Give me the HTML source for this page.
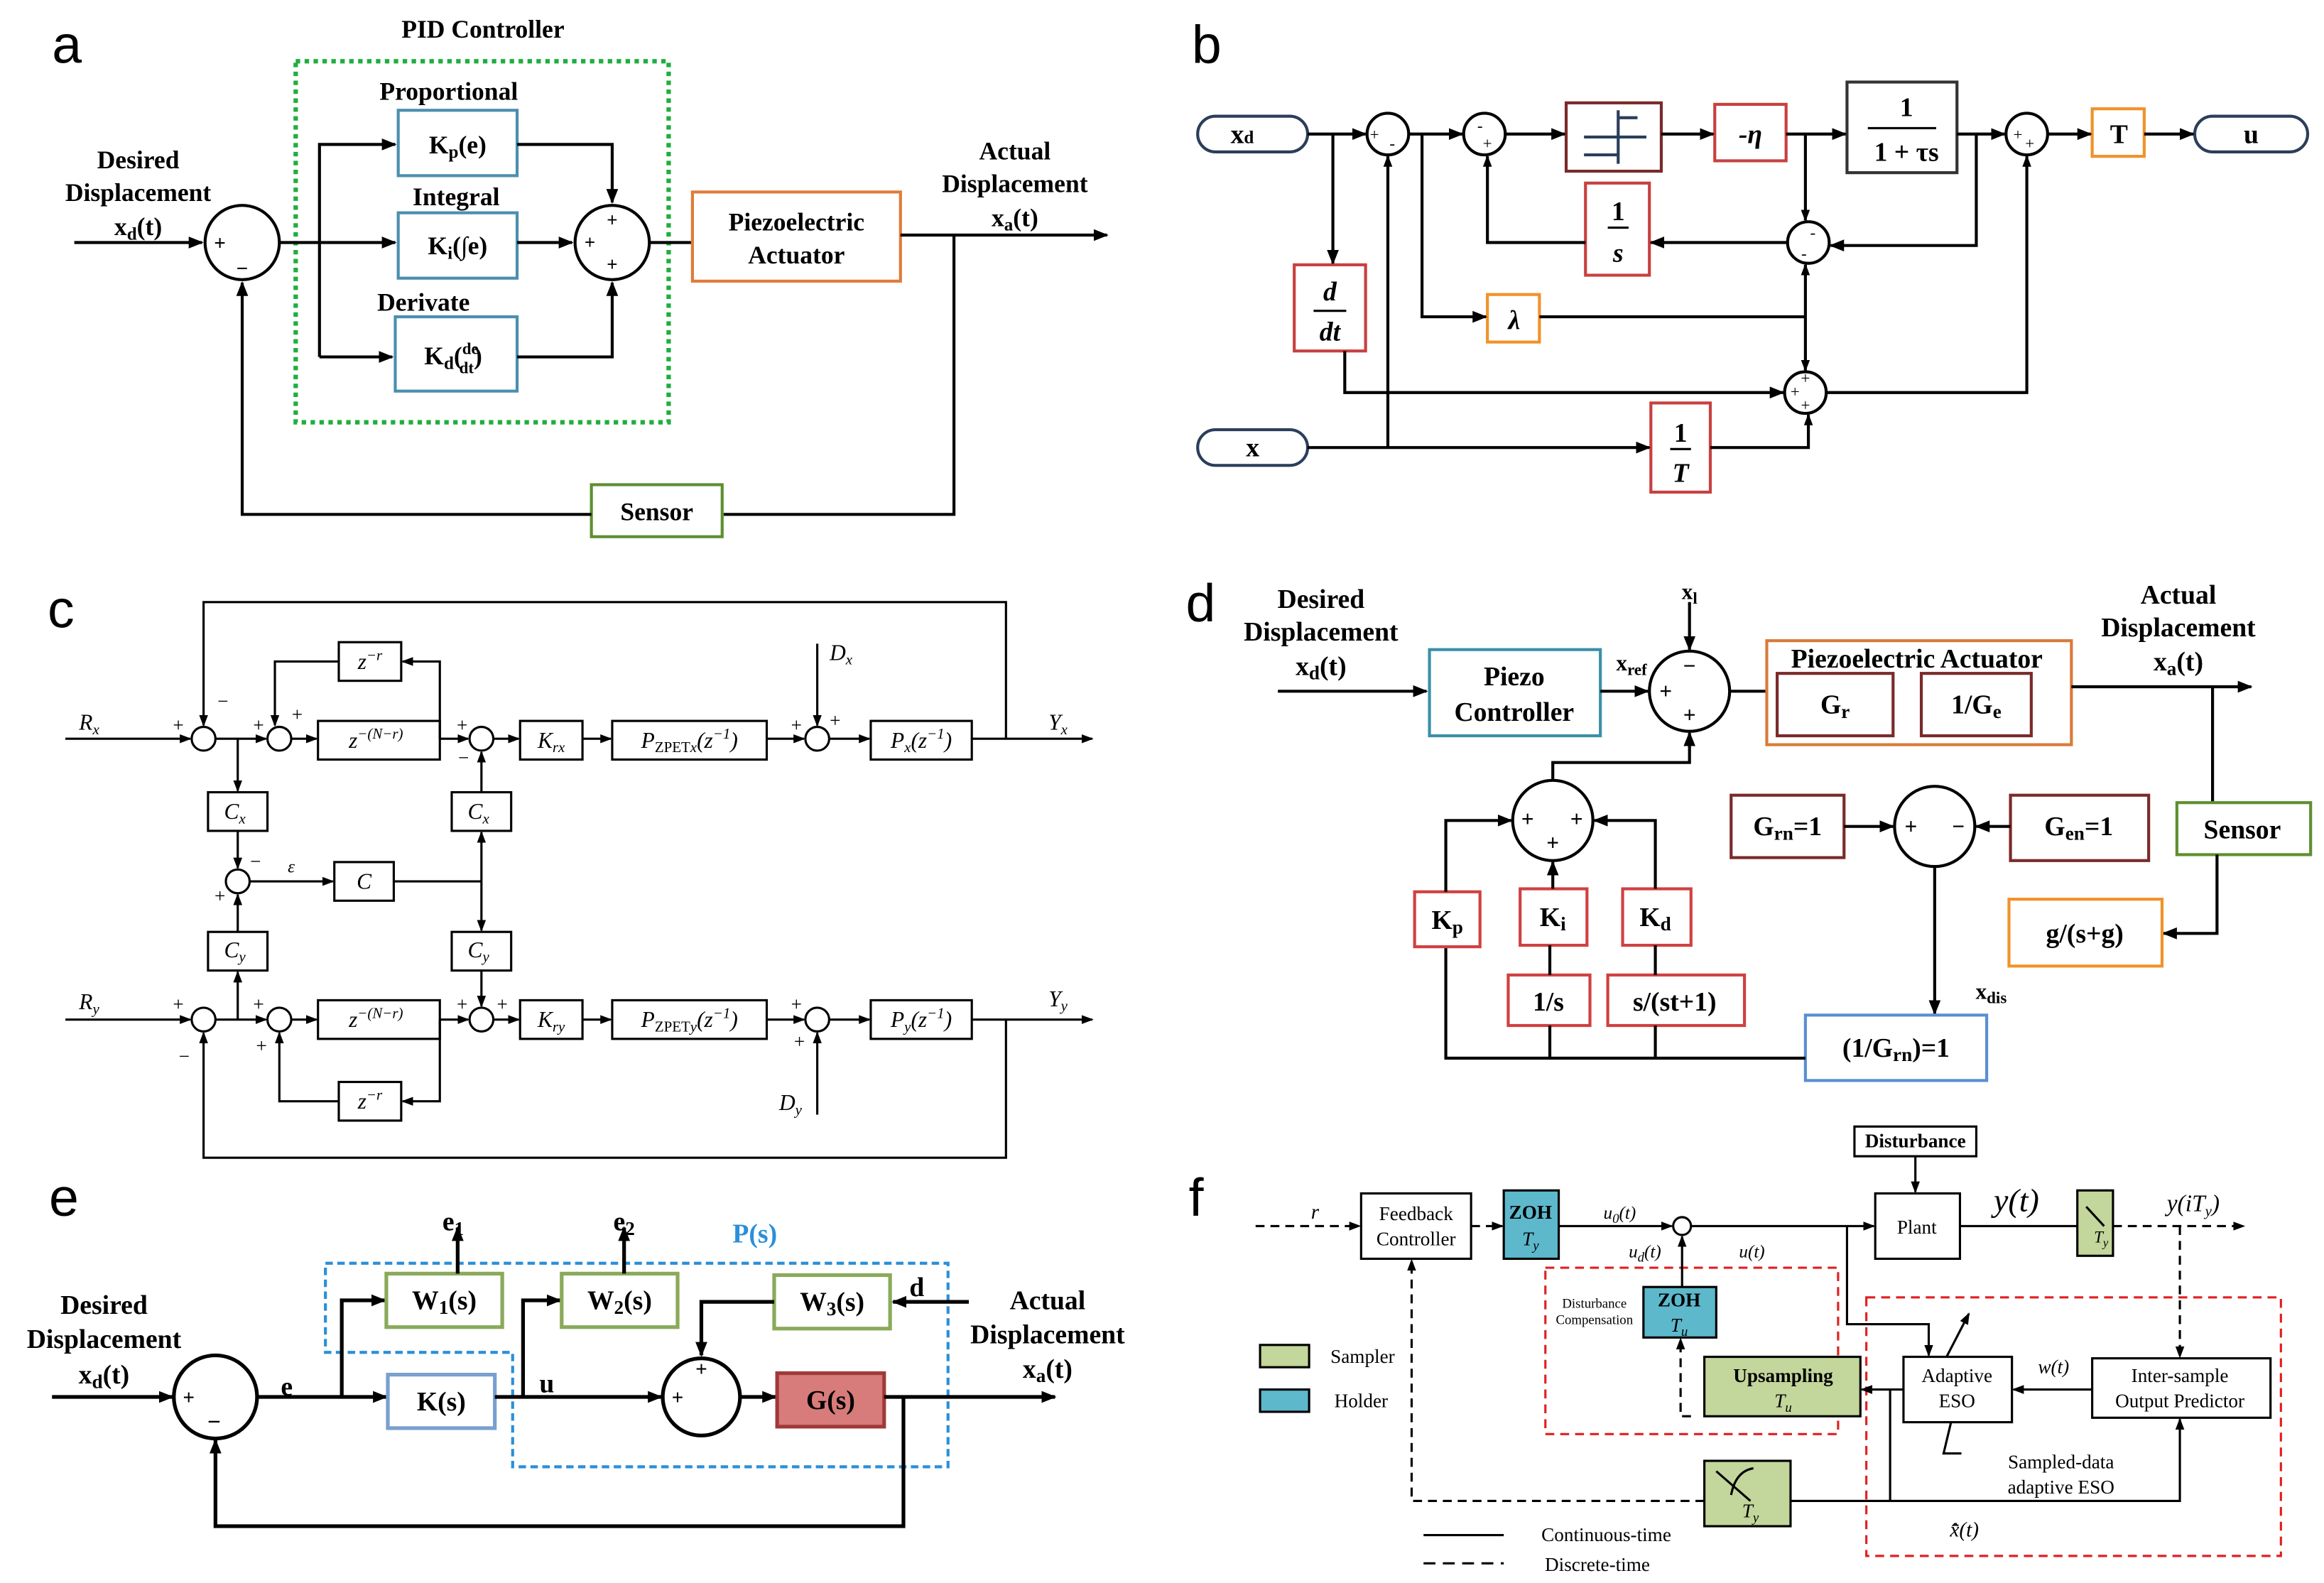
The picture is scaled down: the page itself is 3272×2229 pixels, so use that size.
<!DOCTYPE html>
<html><head><meta charset="utf-8"><style>
html,body{margin:0;padding:0;background:#fff;}
svg{display:block;}
text{font-family:"Liberation Serif",serif;}
.b{font-weight:bold;}
.s{font-family:"Liberation Sans",sans-serif;}
.i{font-style:italic;}
</style></head><body>
<svg width="3272" height="2229" viewBox="0 0 1564 1065" xmlns="http://www.w3.org/2000/svg">
<defs>
<marker id="ar" markerWidth="10" markerHeight="10" refX="9" refY="5" orient="auto" markerUnits="userSpaceOnUse"><path d="M0,1 L10,5 L0,9 Z" fill="#000"/></marker>
<marker id="as" markerWidth="8" markerHeight="8" refX="7" refY="4" orient="auto" markerUnits="userSpaceOnUse"><path d="M0,1 L8,4 L0,7 Z" fill="#000"/></marker>
</defs>
<rect width="1564" height="1065" fill="#fff"/>

<!-- ===== Panel a ===== -->
<g stroke="#000" stroke-width="2" fill="none">
<text x="35" y="42" class="s" font-size="36" fill="#000" stroke="none">a</text>
<rect x="199" y="41" width="251" height="243" stroke="#1fae3f" stroke-width="3" stroke-dasharray="3,3"/>
<line x1="50" y1="163" x2="136" y2="163" marker-end="url(#ar)"/>
<circle cx="163" cy="163" r="25"/>
<line x1="188" y1="163" x2="266" y2="163" marker-end="url(#ar)"/>
<polyline points="215,240 215,97 266,97" marker-end="url(#ar)"/>
<line x1="215" y1="240" x2="264" y2="240" marker-end="url(#ar)"/>
<rect x="268" y="74" width="80" height="44" stroke="#4a8fb0"/>
<rect x="268" y="143" width="80" height="44" stroke="#4a8fb0"/>
<rect x="266" y="213" width="82" height="50" stroke="#4a8fb0"/>
<circle cx="412" cy="163" r="25"/>
<polyline points="348,97 412,97 412,136" marker-end="url(#ar)"/>
<line x1="348" y1="163" x2="385" y2="163" marker-end="url(#ar)"/>
<polyline points="348,240 412,240 412,190" marker-end="url(#ar)"/>
<line x1="437" y1="163" x2="466" y2="163"/>
<rect x="466" y="129" width="140" height="60" stroke="#e07b39"/>
<line x1="606" y1="158" x2="745" y2="158" marker-end="url(#ar)"/>
<polyline points="642,158 642,346 487,346"/>
<rect x="398" y="326" width="88" height="35" stroke="#5f8f30"/>
<polyline points="398,346 163,346 163,190" marker-end="url(#ar)"/>
</g>
<g fill="#000" class="b" font-size="17" text-anchor="middle">
<text x="325" y="25">PID Controller</text>
<text x="93" y="113">Desired</text><text x="93" y="135">Displacement</text>
<text x="93" y="158">x<tspan font-size="12" dy="3">d</tspan><tspan dy="-3">(t)</tspan></text>
<text x="302" y="67">Proportional</text><text x="307" y="138">Integral</text><text x="285" y="209">Derivate</text>
<text x="308" y="103">K<tspan font-size="12" dy="3">p</tspan><tspan dy="-3">(e)</tspan></text>
<text x="308" y="171">K<tspan font-size="12" dy="3">i</tspan><tspan dy="-3">(∫e)</tspan></text>
<text x="305" y="245">K<tspan font-size="12" dy="3">d</tspan><tspan dy="-3">(</tspan><tspan font-size="11" dy="-7">de</tspan><tspan font-size="11" dx="-13" dy="13">dt</tspan><tspan dy="-6">)</tspan></text>
<text x="536" y="155">Piezoelectric</text><text x="536" y="177">Actuator</text>
<text x="683" y="107">Actual</text><text x="683" y="129">Displacement</text>
<text x="683" y="152">x<tspan font-size="12" dy="3">a</tspan><tspan dy="-3">(t)</tspan></text>
<text x="442" y="350">Sensor</text>
<text x="148" y="168" font-size="14">+</text><text x="163" y="185" font-size="14">−</text>
<text x="412" y="152" font-size="13">+</text><text x="397" y="167" font-size="13">+</text><text x="412" y="182" font-size="13">+</text>
</g>

<!-- ===== Panel b ===== -->
<g stroke="#000" stroke-width="2" fill="none">
<text x="802" y="42" class="s" font-size="36" fill="#000" stroke="none">b</text>
<rect x="806" y="78" width="74" height="24" rx="12" stroke="#2b3e5a"/>
<rect x="806" y="289" width="74" height="24" rx="12" stroke="#2b3e5a"/>
<rect x="1477" y="78" width="76" height="24" rx="12" stroke="#2b3e5a"/>
<circle cx="934" cy="90" r="14"/><circle cx="999" cy="90" r="14"/>
<circle cx="1364" cy="90" r="14"/><circle cx="1217" cy="163" r="14"/><circle cx="1215" cy="264" r="14"/>
<rect x="1054" y="69" width="64" height="46" stroke="#7a2a2a"/>
<line x1="1089" y1="74" x2="1089" y2="110" stroke="#2b3e5a"/><line x1="1066" y1="92" x2="1108" y2="92" stroke="#2b3e5a"/>
<line x1="1089" y1="79" x2="1102" y2="79" stroke="#2b3e5a"/><line x1="1066" y1="104" x2="1089" y2="104" stroke="#2b3e5a"/>
<rect x="1154" y="70" width="48" height="38" stroke="#c84040"/>
<rect x="1243" y="55" width="74" height="61" stroke="#333"/>
<line x1="1257" y1="86" x2="1303" y2="86" stroke-width="1.5"/>
<rect x="1408" y="73" width="35" height="32" stroke="#f0922b"/>
<rect x="871" y="178" width="48" height="58" stroke="#c84040"/>
<rect x="1001" y="198" width="35" height="32" stroke="#f0922b"/>
<rect x="1067" y="123" width="43" height="62" stroke="#c84040"/>
<rect x="1111" y="271" width="40" height="60" stroke="#c84040"/>
<line x1="880" y1="90" x2="919" y2="90" marker-end="url(#ar)"/>
<line x1="897" y1="90" x2="897" y2="177" marker-end="url(#ar)"/>
<line x1="948" y1="90" x2="984" y2="90" marker-end="url(#ar)"/>
<polyline points="957,90 957,213 1000,213" marker-end="url(#ar)"/>
<line x1="1013" y1="90" x2="1053" y2="90" marker-end="url(#ar)"/>
<line x1="1118" y1="90" x2="1153" y2="90" marker-end="url(#ar)"/>
<line x1="1202" y1="90" x2="1242" y2="90" marker-end="url(#ar)"/>
<line x1="1317" y1="90" x2="1349" y2="90" marker-end="url(#ar)"/>
<line x1="1378" y1="90" x2="1407" y2="90" marker-end="url(#ar)"/>
<line x1="1443" y1="90" x2="1476" y2="90" marker-end="url(#ar)"/>
<line x1="1215" y1="90" x2="1215" y2="148" marker-end="url(#as)"/>
<polyline points="1330,90 1330,165 1232,165" marker-end="url(#ar)"/>
<line x1="1203" y1="163" x2="1111" y2="163" marker-end="url(#ar)"/>
<polyline points="1067,163 1001,163 1001,105" marker-end="url(#as)"/>
<line x1="1036" y1="213" x2="1215" y2="213"/>
<line x1="1215" y1="213" x2="1215" y2="178" marker-end="url(#as)"/>
<line x1="1215" y1="213" x2="1215" y2="249" marker-end="url(#as)"/>
<polyline points="905,236 905,264 1200,264" marker-end="url(#ar)"/>
<polyline points="1229,264 1364,264 1364,105" marker-end="url(#as)"/>
<line x1="880" y1="301" x2="1110" y2="301" marker-end="url(#ar)"/>
<line x1="934" y1="301" x2="934" y2="105" marker-end="url(#as)"/>
<polyline points="1151,301 1217,301 1217,279" marker-end="url(#as)"/>
</g>
<g fill="#000" class="b" text-anchor="middle" font-size="18">
<text x="836" y="96">x<tspan font-size="12">d</tspan></text>
<text x="843" y="307">x</text><text x="1515" y="96">u</text>
<text x="1178" y="96" class="i">-η</text>
<text x="1283" y="78">1</text><text x="1283" y="108">1 + τs</text>
<text x="1426" y="96">T</text>
<text x="895" y="202" class="i">d</text><line x1="884" y1="209" x2="906" y2="209" stroke="#000" stroke-width="1.5"/><text x="895" y="229" class="i">dt</text>
<text x="1019" y="221" class="i">λ</text>
<text x="1089" y="148">1</text><line x1="1082" y1="153" x2="1096" y2="153" stroke="#000" stroke-width="1.5"/><text x="1089" y="176" class="i">s</text>
<text x="1131" y="297">1</text><line x1="1124" y1="302" x2="1138" y2="302" stroke="#000" stroke-width="1.5"/><text x="1131" y="324" class="i">T</text>
<g font-size="11" font-weight="normal"><text x="925" y="94">+</text><text x="937" y="100">-</text><text x="996" y="88">-</text><text x="1001" y="100">+</text>
<text x="1358" y="94">+</text><text x="1366" y="100">+</text><text x="1220" y="160">-</text><text x="1214" y="174">-</text>
<text x="1215" y="258">+</text><text x="1208" y="267">+</text><text x="1215" y="276">+</text></g>
</g>

<!-- ===== Panel c ===== -->
<g stroke="#000" stroke-width="1.5" fill="none">
<text x="32" y="422" class="s" font-size="36" fill="#000" stroke="none">c</text>
<polyline points="677,497 677,405 137,405 137,488" marker-end="url(#as)"/>
<line x1="44" y1="497" x2="128" y2="497" marker-end="url(#as)"/>
<circle cx="137" cy="497" r="8"/><circle cx="188" cy="497" r="8"/><circle cx="324" cy="497" r="8"/><circle cx="550" cy="497" r="8"/>
<line x1="145" y1="497" x2="179" y2="497" marker-end="url(#as)"/>
<line x1="196" y1="497" x2="213" y2="497" marker-end="url(#as)"/>
<rect x="214" y="485" width="82" height="26"/>
<line x1="296" y1="497" x2="315" y2="497" marker-end="url(#as)"/>
<line x1="332" y1="497" x2="349" y2="497" marker-end="url(#as)"/>
<rect x="350" y="485" width="42" height="26"/>
<line x1="392" y1="497" x2="411" y2="497" marker-end="url(#as)"/>
<rect x="412" y="485" width="104" height="26"/>
<line x1="516" y1="497" x2="541" y2="497" marker-end="url(#as)"/>
<line x1="558" y1="497" x2="585" y2="497" marker-end="url(#as)"/>
<rect x="586" y="485" width="68" height="26"/>
<line x1="654" y1="497" x2="735" y2="497" marker-end="url(#as)"/>
<rect x="228" y="432" width="42" height="26"/>
<polyline points="296,497 296,445 271,445" marker-end="url(#as)"/>
<polyline points="228,445 185,445 185,488" marker-end="url(#as)"/>
<line x1="550" y1="433" x2="550" y2="488" marker-end="url(#as)"/>
<line x1="160" y1="497" x2="160" y2="532" marker-end="url(#as)"/>
<rect x="140" y="533" width="40" height="26"/>
<line x1="160" y1="559" x2="160" y2="584" marker-end="url(#as)"/>
<circle cx="160" cy="593" r="8"/>
<line x1="168" y1="593" x2="224" y2="593" marker-end="url(#as)"/>
<rect x="225" y="580" width="40" height="26"/>
<line x1="265" y1="593" x2="324" y2="593"/>
<line x1="324" y1="593" x2="324" y2="560" marker-end="url(#as)"/>
<line x1="324" y1="593" x2="324" y2="626" marker-end="url(#as)"/>
<rect x="304" y="533" width="40" height="26"/>
<line x1="324" y1="533" x2="324" y2="506" marker-end="url(#as)"/>
<rect x="140" y="627" width="40" height="26"/>
<line x1="160" y1="627" x2="160" y2="602" marker-end="url(#as)"/>
<rect x="304" y="627" width="40" height="26"/>
<line x1="324" y1="653" x2="324" y2="677" marker-end="url(#as)"/>
<line x1="160" y1="686" x2="160" y2="654" marker-end="url(#as)"/>
<line x1="44" y1="686" x2="128" y2="686" marker-end="url(#as)"/>
<circle cx="137" cy="686" r="8"/><circle cx="188" cy="686" r="8"/><circle cx="324" cy="686" r="8"/><circle cx="550" cy="686" r="8"/>
<line x1="145" y1="686" x2="179" y2="686" marker-end="url(#as)"/>
<line x1="196" y1="686" x2="213" y2="686" marker-end="url(#as)"/>
<rect x="214" y="673" width="82" height="26"/>
<line x1="296" y1="686" x2="315" y2="686" marker-end="url(#as)"/>
<line x1="332" y1="686" x2="349" y2="686" marker-end="url(#as)"/>
<rect x="350" y="673" width="42" height="26"/>
<line x1="392" y1="686" x2="411" y2="686" marker-end="url(#as)"/>
<rect x="412" y="673" width="104" height="26"/>
<line x1="516" y1="686" x2="541" y2="686" marker-end="url(#as)"/>
<line x1="558" y1="686" x2="585" y2="686" marker-end="url(#as)"/>
<rect x="586" y="673" width="68" height="26"/>
<line x1="654" y1="686" x2="735" y2="686" marker-end="url(#as)"/>
<rect x="228" y="728" width="42" height="26"/>
<polyline points="296,686 296,741 271,741" marker-end="url(#as)"/>
<polyline points="228,741 188,741 188,695" marker-end="url(#as)"/>
<line x1="550" y1="750" x2="550" y2="695" marker-end="url(#as)"/>
<polyline points="677,686 677,779 137,779 137,695" marker-end="url(#as)"/>
</g>
<g fill="#000" font-size="15" class="i" text-anchor="middle">
<text x="60" y="491">R<tspan font-size="10" dy="3">x</tspan></text>
<text x="60" y="679">R<tspan font-size="10" dy="3">y</tspan></text>
<text x="712" y="491">Y<tspan font-size="10" dy="3">x</tspan></text>
<text x="712" y="677">Y<tspan font-size="10" dy="3">y</tspan></text>
<text x="566" y="444">D<tspan font-size="10" dy="3">x</tspan></text>
<text x="532" y="747">D<tspan font-size="10" dy="3">y</tspan></text>
<text x="249" y="450">z<tspan font-size="10" dy="-6">−r</tspan></text>
<text x="249" y="746">z<tspan font-size="10" dy="-6">−r</tspan></text>
<text x="253" y="503">z<tspan font-size="10" dy="-6">−(N−r)</tspan></text>
<text x="253" y="691">z<tspan font-size="10" dy="-6">−(N−r)</tspan></text>
<text x="371" y="503">K<tspan font-size="10" dy="3">rx</tspan></text>
<text x="371" y="691">K<tspan font-size="10" dy="3">ry</tspan></text>
<text x="464" y="503">P<tspan font-size="10" dy="3" font-style="normal">ZPET</tspan><tspan font-size="10">x</tspan><tspan dy="-3">(z</tspan><tspan font-size="10" dy="-6">−1</tspan><tspan dy="6">)</tspan></text>
<text x="464" y="691">P<tspan font-size="10" dy="3" font-style="normal">ZPET</tspan><tspan font-size="10">y</tspan><tspan dy="-3">(z</tspan><tspan font-size="10" dy="-6">−1</tspan><tspan dy="6">)</tspan></text>
<text x="620" y="503">P<tspan font-size="10" dy="3">x</tspan><tspan dy="-3">(z</tspan><tspan font-size="10" dy="-6">−1</tspan><tspan dy="6">)</tspan></text>
<text x="620" y="691">P<tspan font-size="10" dy="3">y</tspan><tspan dy="-3">(z</tspan><tspan font-size="10" dy="-6">−1</tspan><tspan dy="6">)</tspan></text>
<text x="158" y="551">C<tspan font-size="10" dy="3">x</tspan></text>
<text x="322" y="551">C<tspan font-size="10" dy="3">x</tspan></text>
<text x="158" y="644">C<tspan font-size="10" dy="3">y</tspan></text>
<text x="322" y="644">C<tspan font-size="10" dy="3">y</tspan></text>
<text x="245" y="598">C</text><text x="196" y="587" font-size="12">ε</text>
<g font-style="normal" font-size="13">
<text x="120" y="492">+</text><text x="150" y="476">−</text><text x="174" y="492">+</text><text x="200" y="485">+</text>
<text x="311" y="492">+</text><text x="312" y="514">−</text><text x="536" y="492">+</text><text x="562" y="489">+</text>
<text x="172" y="584">−</text><text x="148" y="607">+</text>
<text x="120" y="680">+</text><text x="124" y="715">−</text><text x="174" y="680">+</text><t/><text x="176" y="708">+</text>
<text x="311" y="680">+</text><text x="338" y="680">+</text><text x="536" y="680">+</text><text x="538" y="705">+</text>
</g></g>

<!-- ===== Panel d ===== -->
<g stroke="#000" stroke-width="2" fill="none">
<text x="798" y="418" class="s" font-size="36" fill="#000" stroke="none">d</text>
<line x1="860" y1="465" x2="960" y2="465" marker-end="url(#ar)"/>
<rect x="962" y="437" width="115" height="58" stroke="#3a8fa8"/>
<line x1="1077" y1="465" x2="1109" y2="465" marker-end="url(#ar)"/>
<circle cx="1137" cy="465" r="27"/>
<line x1="1137" y1="405" x2="1137" y2="437" marker-end="url(#ar)"/>
<line x1="1164" y1="465" x2="1189" y2="465"/>
<rect x="1189" y="431" width="205" height="70" stroke="#d97a3a"/>
<rect x="1196" y="453" width="78" height="42" stroke="#7a2a2a"/>
<rect x="1293" y="453" width="74" height="42" stroke="#7a2a2a"/>
<line x1="1394" y1="462" x2="1515" y2="462" marker-end="url(#ar)"/>
<line x1="1489" y1="462" x2="1489" y2="540"/>
<rect x="1465" y="540" width="90" height="35" stroke="#5f8f30"/>
<polyline points="1492,575 1492,628 1456,628" marker-end="url(#ar)"/>
<rect x="1352" y="605" width="103" height="45" stroke="#f0922b"/>
<rect x="1353" y="535" width="93" height="44" stroke="#7a2a2a"/>
<line x1="1353" y1="556" x2="1330" y2="556" marker-end="url(#ar)"/>
<circle cx="1302" cy="556" r="27"/>
<rect x="1165" y="535" width="76" height="42" stroke="#7a2a2a"/>
<line x1="1241" y1="556" x2="1274" y2="556" marker-end="url(#ar)"/>
<line x1="1302" y1="583" x2="1302" y2="682" marker-end="url(#ar)"/>
<rect x="1215" y="683" width="122" height="44" stroke="#5a8fd0"/>
<polyline points="1215,712 973,712 973,637"/>
<rect x="952" y="600" width="44" height="37" stroke="#d04040"/>
<polyline points="973,600 973,552 1017,552" marker-end="url(#ar)"/>
<rect x="1023" y="598" width="45" height="38" stroke="#d04040"/>
<line x1="1045" y1="598" x2="1045" y2="580" marker-end="url(#ar)"/>
<rect x="1015" y="656" width="55" height="34" stroke="#d04040"/>
<line x1="1043" y1="636" x2="1043" y2="656"/><line x1="1043" y1="690" x2="1043" y2="712"/>
<rect x="1092" y="598" width="46" height="38" stroke="#d04040"/>
<polyline points="1114,598 1114,552 1073,552" marker-end="url(#ar)"/>
<rect x="1082" y="656" width="92" height="34" stroke="#d04040"/>
<line x1="1114" y1="636" x2="1114" y2="656"/><line x1="1114" y1="690" x2="1114" y2="712"/>
<circle cx="1045" cy="552" r="27"/>
<polyline points="1045,525 1045,513 1137,513 1137,493" marker-end="url(#ar)"/>
</g>
<g fill="#000" class="b" text-anchor="middle" font-size="18">
<text x="889" y="409">Desired</text><text x="889" y="431">Displacement</text>
<text x="889" y="454">x<tspan font-size="13" dy="3">d</tspan><tspan dy="-3">(t)</tspan></text>
<text x="1019" y="461">Piezo</text><text x="1019" y="485">Controller</text>
<text x="1137" y="403" font-size="15">x<tspan font-size="11" dy="3">l</tspan></text>
<text x="1098" y="451" font-size="15">x<tspan font-size="11" dy="3">ref</tspan></text>
<text x="1290" y="449">Piezoelectric Actuator</text>
<text x="1235" y="480">G<tspan font-size="13" dy="3">r</tspan></text>
<text x="1330" y="480">1/G<tspan font-size="13" dy="3">e</tspan></text>
<text x="1466" y="406">Actual</text><text x="1466" y="428">Displacement</text>
<text x="1466" y="451">x<tspan font-size="13" dy="3">a</tspan><tspan dy="-3">(t)</tspan></text>
<text x="1509" y="564">Sensor</text>
<text x="1403" y="634">g/(s+g)</text>
<text x="1399" y="562">G<tspan font-size="13" dy="3">en</tspan><tspan dy="-3">=1</tspan></text>
<text x="1203" y="562">G<tspan font-size="13" dy="3">rn</tspan><tspan dy="-3">=1</tspan></text>
<text x="1276" y="711">(1/G<tspan font-size="13" dy="3">rn</tspan><tspan dy="-3">)=1</tspan></text>
<text x="1340" y="672" font-size="15">x<tspan font-size="11" dy="3">dis</tspan></text>
<text x="974" y="625">K<tspan font-size="13" dy="3">p</tspan></text>
<text x="1045" y="623">K<tspan font-size="13" dy="3">i</tspan></text>
<text x="1114" y="623">K<tspan font-size="13" dy="3">d</tspan></text>
<text x="1042" y="680">1/s</text><text x="1127" y="680">s/(st+1)</text>
<g font-size="15"><text x="1137" y="453">−</text><text x="1121" y="470">+</text><text x="1137" y="486">+</text>
<text x="1286" y="561">+</text><text x="1318" y="561">−</text>
<text x="1028" y="556">+</text><text x="1061" y="556">+</text><text x="1045" y="572">+</text></g>
</g>

<!-- ===== Panel e ===== -->
<g stroke="#000" stroke-width="2.5" fill="none">
<text x="33" y="818" class="s" font-size="36" fill="#000" stroke="none">e</text>
<polygon points="219,850 638,850 638,987 345,987 345,910 219,910" stroke="#2a8fd8" stroke-width="2" stroke-dasharray="5,3"/>
<line x1="35" y1="940" x2="116" y2="940" marker-end="url(#ar)"/>
<circle cx="145" cy="940" r="28"/>
<line x1="173" y1="940" x2="260" y2="940" marker-end="url(#ar)"/>
<polyline points="230,940 230,875 259,875" marker-end="url(#ar)"/>
<rect x="260" y="857" width="78" height="36" stroke="#8aaa5a"/>
<line x1="308" y1="857" x2="308" y2="826" marker-end="url(#ar)"/>
<rect x="261" y="925" width="72" height="36" stroke="#7a9fd0"/>
<line x1="333" y1="940" x2="445" y2="940" marker-end="url(#ar)"/>
<polyline points="352,940 352,875 377,875" marker-end="url(#ar)"/>
<rect x="378" y="857" width="78" height="36" stroke="#8aaa5a"/>
<line x1="420" y1="857" x2="420" y2="826" marker-end="url(#ar)"/>
<rect x="521" y="858" width="78" height="36" stroke="#8aaa5a"/>
<line x1="652" y1="876" x2="601" y2="876" marker-end="url(#ar)"/>
<polyline points="521,876 472,876 472,912" marker-end="url(#ar)"/>
<circle cx="472" cy="940" r="26"/>
<line x1="498" y1="940" x2="522" y2="940" marker-end="url(#ar)"/>
<rect x="523" y="924" width="72" height="36" fill="#d77b7b" stroke="#a03a3a"/>
<line x1="595" y1="940" x2="710" y2="940" marker-end="url(#ar)"/>
<polyline points="608,940 608,1027 145,1027 145,969" marker-end="url(#ar)"/>
</g>
<g fill="#000" class="b" text-anchor="middle" font-size="18">
<text x="70" y="884">Desired</text><text x="70" y="907">Displacement</text>
<text x="70" y="931">x<tspan font-size="13" dy="3">d</tspan><tspan dy="-3">(t)</tspan></text>
<text x="705" y="881">Actual</text><text x="705" y="904">Displacement</text>
<text x="705" y="927">x<tspan font-size="13" dy="3">a</tspan><tspan dy="-3">(t)</tspan></text>
<text x="299" y="881">W<tspan font-size="13" dy="3">1</tspan><tspan dy="-3">(s)</tspan></text>
<text x="417" y="881">W<tspan font-size="13" dy="3">2</tspan><tspan dy="-3">(s)</tspan></text>
<text x="560" y="882">W<tspan font-size="13" dy="3">3</tspan><tspan dy="-3">(s)</tspan></text>
<text x="297" y="949">K(s)</text><text x="559" y="948">G(s)</text>
<text x="305" y="828">e<tspan font-size="13" dy="3">1</tspan></text>
<text x="420" y="828">e<tspan font-size="13" dy="3">2</tspan></text>
<text x="508" y="836" fill="#2a8fd8">P(s)</text>
<text x="193" y="939">e</text><text x="368" y="937">u</text><text x="617" y="872">d</text>
<text x="127" y="945" font-size="14">+</text><text x="144" y="962" font-size="16">−</text>
<text x="456" y="945" font-size="14">+</text><text x="472" y="926" font-size="14">+</text>
</g>

<!-- ===== Panel f ===== -->
<g stroke="#000" stroke-width="1.5" fill="none">
<text x="800" y="818" class="s" font-size="36" fill="#000" stroke="none">f</text>
<rect x="1040" y="853" width="197" height="112" stroke="#e02020" stroke-dasharray="6,4"/>
<rect x="1256" y="873" width="279" height="174" stroke="#e02020" stroke-dasharray="6,4"/>
<line x1="845" y1="825" x2="915" y2="825" stroke-dasharray="6,4" marker-end="url(#as)"/>
<rect x="916" y="803" width="74" height="44"/>
<line x1="990" y1="825" x2="1011" y2="825" stroke-dasharray="6,4" marker-end="url(#as)"/>
<rect x="1012" y="801" width="37" height="46" fill="#5db8cc"/>
<line x1="1049" y1="825" x2="1125" y2="825" marker-end="url(#as)"/>
<circle cx="1132" cy="825" r="6"/>
<line x1="1138" y1="825" x2="1261" y2="825" marker-end="url(#as)"/>
<rect x="1248" y="758" width="82" height="20"/>
<line x1="1289" y1="778" x2="1289" y2="802" marker-end="url(#as)"/>
<rect x="1262" y="803" width="57" height="44"/>
<line x1="1319" y1="825" x2="1398" y2="825"/>
<rect x="1398" y="801" width="24" height="44" fill="#c3d69b"/>
<line x1="1422" y1="825" x2="1510" y2="825" stroke-dasharray="6,4" marker-end="url(#as)"/>
<line x1="1404" y1="812" x2="1416" y2="825"/>
<line x1="1467" y1="825" x2="1467" y2="913" stroke-dasharray="6,4" marker-end="url(#as)"/>
<line x1="1132" y1="866" x2="1132" y2="832" marker-end="url(#as)"/>
<rect x="1106" y="866" width="49" height="34" fill="#5db8cc"/>
<polyline points="1138,953 1131,953 1131,901" stroke-dasharray="6,4" marker-end="url(#as)"/>
<rect x="1147" y="913" width="105" height="40" fill="#c3d69b"/>
<polyline points="1243,825 1243,891 1298,891 1298,912" marker-end="url(#as)"/>
<rect x="1281" y="913" width="73" height="44"/>
<line x1="1281" y1="935" x2="1253" y2="935" marker-end="url(#as)"/>
<line x1="1408" y1="935" x2="1355" y2="935" marker-end="url(#as)"/>
<rect x="1408" y="914" width="120" height="40"/>
<line x1="1310" y1="913" x2="1325" y2="884" marker-end="url(#as)"/>
<polyline points="1313,957 1308,978 1320,978"/>
<line x1="1272" y1="935" x2="1272" y2="1010"/>
<rect x="1147" y="983" width="58" height="44" fill="#c3d69b"/>
<polyline points="1205,1010 1467,1010 1467,955" marker-end="url(#as)"/>
<polyline points="1147,1010 950,1010 950,848" stroke-dasharray="6,4" marker-end="url(#as)"/>
<line x1="1155" y1="990" x2="1178" y2="1010"/>
<path d="M1165,1006 Q1168,990 1180,988"/>
<rect x="848" y="905" width="33" height="15" fill="#c3d69b"/>
<rect x="848" y="935" width="33" height="15" fill="#5db8cc"/>
<line x1="958" y1="1033" x2="1012" y2="1033"/>
<line x1="958" y1="1052" x2="1012" y2="1052" stroke-dasharray="8,5"/>
</g>
<g fill="#000" text-anchor="middle" font-size="13">
<text x="1289" y="772" class="b">Disturbance</text>
<text x="953" y="821">Feedback</text><text x="953" y="838">Controller</text>
<text x="1030" y="820" class="b">ZOH</text><text x="1030" y="838" class="i">T<tspan font-size="9" dy="3">y</tspan></text>
<text x="1130" y="879" class="b">ZOH</text><text x="1130" y="896" class="i">T<tspan font-size="9" dy="3">u</tspan></text>
<text x="1200" y="930" class="b">Upsampling</text><text x="1200" y="947" class="i">T<tspan font-size="9" dy="3">u</tspan></text>
<text x="1290" y="830">Plant</text>
<text x="1317" y="930">Adaptive</text><text x="1317" y="947">ESO</text>
<text x="1467" y="930">Inter-sample</text><text x="1467" y="947">Output Predictor</text>
<text x="1090" y="820" class="i" font-size="12">u<tspan font-size="9" dy="3">0</tspan><tspan dy="-3">(t)</tspan></text>
<text x="1107" y="846" class="i" font-size="12">u<tspan font-size="9" dy="3">d</tspan><tspan dy="-3">(t)</tspan></text>
<text x="1179" y="846" class="i" font-size="12">u(t)</text>
<text x="1357" y="815" class="i" font-size="22">y(t)</text>
<text x="1476" y="815" class="i" font-size="16">y(iT<tspan font-size="10" dy="3">y</tspan><tspan dy="-3">)</tspan></text>
<text x="885" y="820" class="i" font-size="14">r</text>
<text x="1382" y="924" class="i" font-size="13">w(t)</text>
<text x="1414" y="836" class="i" font-size="11">T<tspan font-size="8" dy="3">y</tspan></text>
<text x="1178" y="1021" class="i" font-size="13">T<tspan font-size="9" dy="3">y</tspan></text>
<text x="1073" y="880" font-size="9">Disturbance</text><text x="1073" y="891" font-size="9">Compensation</text>
<text x="1387" y="988">Sampled-data</text><text x="1387" y="1005">adaptive ESO</text>
<text x="1322" y="1034" class="i" font-size="14">x̂̄(t)</text>
<text x="917" y="917" text-anchor="middle">Sampler</text>
<text x="916" y="947">Holder</text>
<text x="1081" y="1037">Continuous-time</text>
<text x="1075" y="1057">Discrete-time</text>
</g>
</svg>
</body></html>
